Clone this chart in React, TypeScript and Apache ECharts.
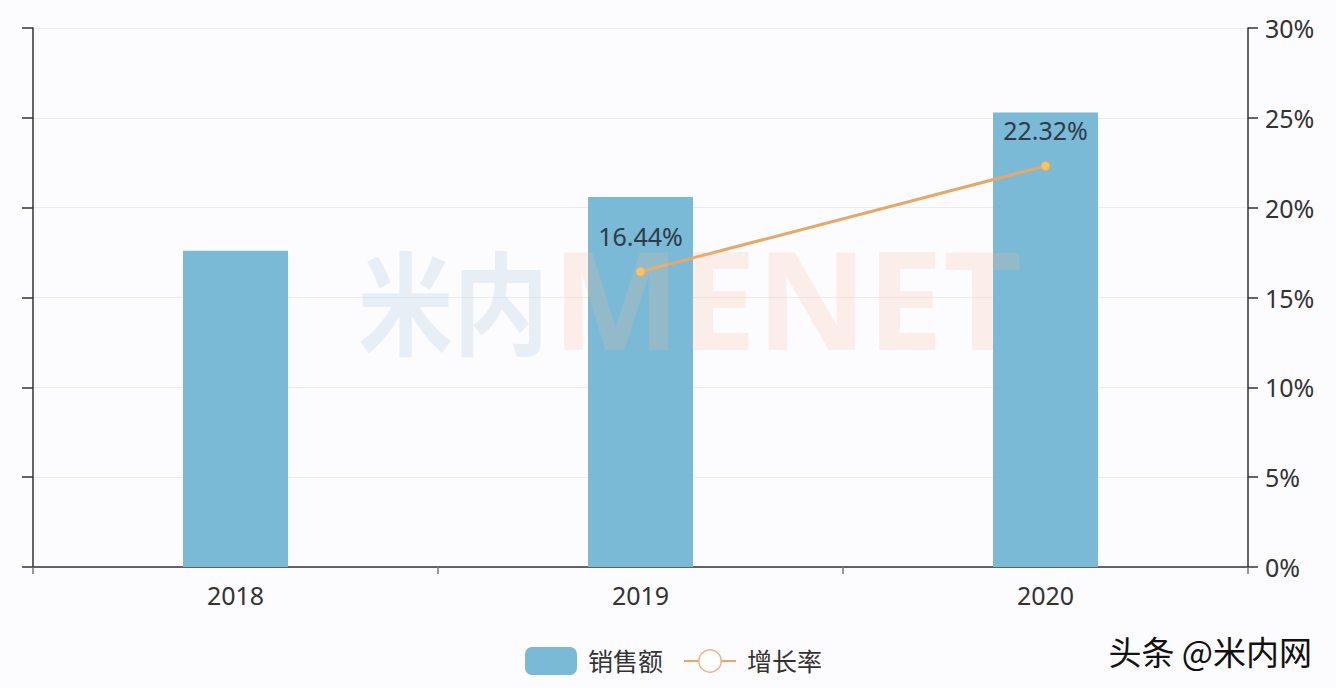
import React, { useEffect, useRef } from "react";
import * as echarts from "echarts";

const categories = ["2018", "2019", "2020"];
const salesValues = [17.6, 20.6, 25.3];
const growthValues: (number | null)[] = [null, 16.44, 22.32];
const rightTicks = [0, 5, 10, 15, 20, 25, 30];

const FONT = "'Noto Sans', 'Noto Sans CJK SC', sans-serif";

export default function App() {
  const ref = useRef<HTMLDivElement>(null);
  useEffect(() => {
    document.body.style.margin = "0";
    const chart = echarts.init(ref.current!, null, { renderer: "svg" });
    chart.setOption({
      animation: false,
      backgroundColor: "#fcfbfd",
      textStyle: { fontFamily: FONT },
      grid: { left: 33, right: 88, top: 28, bottom: 121, containLabel: false },
      legend: {
        bottom: 8,
        left: 520,
        itemWidth: 52,
        itemHeight: 28,
        itemGap: 20,
        textStyle: { fontSize: 25, color: "#333", fontFamily: FONT, padding: [0, 0, 0, 6] },
        data: [
          { name: "销售额", icon: "roundRect" },
          { name: "增长率", itemStyle: { color: "#ffffff", borderColor: "#e8b58a", borderWidth: 1.5 } },
        ],
      },
      xAxis: {
        type: "category",
        data: categories,
        axisLine: { lineStyle: { color: "#333", width: 1.5 } },
        axisTick: { show: true, length: 7, lineStyle: { color: "#777", width: 1.5 } },
        axisLabel: { fontSize: 25, color: "#333", margin: 15, fontFamily: FONT },
      },
      yAxis: [
        {
          type: "value",
          min: 0,
          max: 30,
          interval: 5,
          axisLine: { show: true, lineStyle: { color: "#333", width: 1.5 } },
          axisTick: { show: true, length: 11, lineStyle: { color: "#333", width: 1.5 } },
          axisLabel: { show: false },
          splitLine: { lineStyle: { color: "#ececf0", width: 1 } },
        },
        {
          type: "value",
          min: rightTicks[0],
          max: rightTicks[rightTicks.length - 1],
          interval: 5,
          position: "right",
          axisLine: { show: true, lineStyle: { color: "#333", width: 1.5 } },
          axisTick: { show: true, length: 10, lineStyle: { color: "#333", width: 1.5 } },
          axisLabel: { formatter: "{value}%", fontSize: 25, color: "#333", margin: 17, fontFamily: FONT },
          splitLine: { show: false },
        },
      ],
      series: [
        {
          name: "销售额",
          type: "bar",
          data: salesValues,
          barWidth: 105,
          itemStyle: { color: "#7abad6" },
          yAxisIndex: 0,
        },
        {
          name: "增长率",
          type: "line",
          yAxisIndex: 1,
          data: growthValues,
          symbol: "circle",
          symbolSize: 9,
          lineStyle: { color: "#e6a867", width: 3 },
          itemStyle: { color: "#f8c45c", borderColor: "#e6a867", borderWidth: 1 },
          label: {
            show: true,
            position: "top",
            distance: 18,
            formatter: (p: any) => p.value.toFixed(2) + "%",
            fontSize: 25,
            color: "#2f3b48",
            fontFamily: FONT,
          },
          z: 3,
        },
      ],
      graphic: [
        {
          type: "text",
          left: 358,
          top: 242,
          z: 100,
          style: {
            text: "米内",
            fontSize: 112,
            lineHeight: 56,
            fontWeight: "bold",
            fontFamily: "'Noto Sans CJK SC', sans-serif",
            fill: "rgba(170,200,225,0.25)",
          },
          scaleX: 0.85,
        },
        {
          type: "text",
          left: 552,
          top: 229,
          z: 100,
          style: {
            text: "MENET",
            fontSize: 136,
            lineHeight: 56,
            fontWeight: "bold",
            fontFamily: "'Noto Sans', sans-serif",
            fill: "rgba(250,190,150,0.2)",
          },
        },
        {
          type: "text",
          right: 24,
          top: 634,
          z: 100,
          style: {
            text: "头条 @米内网",
            fontSize: 33,
            fontFamily: "'Noto Sans CJK SC', sans-serif",
            fill: "#111",
            textShadowColor: "#ffffff",
            textShadowBlur: 0,
            textShadowOffsetX: 1,
            textShadowOffsetY: 1,
          },
        },
      ],
    });
    return () => chart.dispose();
  }, []);
  return <div ref={ref} style={{ width: 1336, height: 688 }} />;
}
